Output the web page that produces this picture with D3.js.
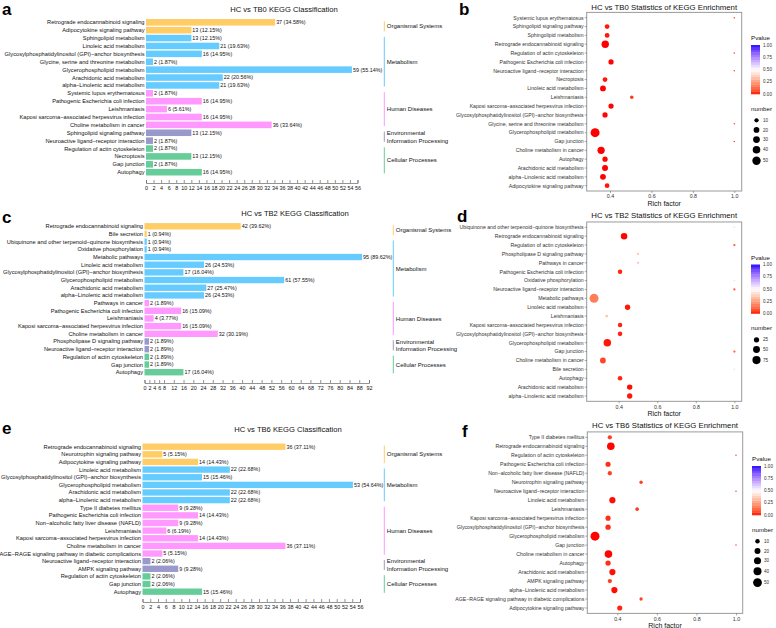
<!DOCTYPE html>
<html><head><meta charset="utf-8">
<script src="https://cdn.jsdelivr.net/npm/d3@7"></script>
<style>
body{margin:0;background:#fff;}
text{font-family:"Liberation Sans",Arial,Helvetica,sans-serif;}
</style></head>
<body>
<script>
// ---------------- DATA ----------------
const catNames = ["Organismal Systems","Metabolism","Human Diseases","Environmental|Information Processing","Cellular Processes"];
const catColors = ["#FFCC66","#66CCFF","#FF99FF","#9999CC","#66CC99"];

// Panel a : HC vs TB0 KEGG Classification
const aPathways = ["Retrograde endocannabinoid signaling","Adipocytokine signaling pathway","Sphingolipid metabolism","Linoleic acid metabolism","Glycosylphosphatidylinositol (GPI)\u2212anchor biosynthesis","Glycine, serine and threonine metabolism","Glycerophospholipid metabolism","Arachidonic acid metabolism","alpha\u2212Linolenic acid metabolism","Systemic lupus erythematosus","Pathogenic Escherichia coli infection","Leishmaniasis","Kaposi sarcoma\u2212associated herpesvirus infection","Choline metabolism in cancer","Sphingolipid signaling pathway","Neuroactive ligand\u2212receptor interaction","Regulation of actin cytoskeleton","Necroptosis","Gap junction","Autophagy"];
const aCounts = [37,13,13,21,16,2,59,22,21,2,16,6,16,36,13,2,2,13,2,16];
const aCats = [0,0,1,1,1,1,1,1,1,2,2,2,2,2,3,3,4,4,4,4];
const aTotal = 107;
const aTicks = [0,2,4,6,8,10,12,14,16,18,20,22,24,26,28,30,32,34,36,38,40,42,44,46,48,50,52,54,56];

// Panel b : HC vs TB0 enrichment
const bPathways = ["Systemic lupus erythematosus","Sphingolipid signaling pathway","Sphingolipid metabolism","Retrograde endocannabinoid signaling","Regulation of actin cytoskeleton","Pathogenic Escherichia coli infection","Neuroactive ligand\u2212receptor interaction","Necroptosis","Linoleic acid metabolism","Leishmaniasis","Kaposi sarcoma\u2212associated herpesvirus infection","Glycosylphosphatidylinositol (GPI)\u2212anchor biosynthesis","Glycine, serine and threonine metabolism","Glycerophospholipid metabolism","Gap junction","Choline metabolism in cancer","Autophagy","Arachidonic acid metabolism","alpha\u2212Linolenic acid metabolism","Adipocytokine signaling pathway"];
const bRich = [1.0,0.386,0.386,0.377,1.0,0.405,1.0,0.376,0.366,0.505,0.405,0.376,1.0,0.328,1.0,0.357,0.376,0.376,0.366,0.386];
const bCounts = [2,13,13,37,2,16,2,13,21,6,16,16,2,59,2,36,16,22,21,13];
const bPvals = [0.05,0.01,0.01,0.0001,0.05,0.001,0.05,0.01,0.001,0.04,0.001,0.002,0.05,0.0001,0.05,0.0001,0.002,0.0005,0.001,0.01];
const bSizeBreaks = [10,20,30,40,50];

// Panel c : HC vs TB2 KEGG Classification
const cPathways = ["Retrograde endocannabinoid signaling","Bile secretion","Ubiquinone and other terpenoid\u2212quinone biosynthesis","Oxidative phosphorylation","Metabolic pathways","Linoleic acid metabolism","Glycosylphosphatidylinositol (GPI)\u2212anchor biosynthesis","Glycerophospholipid metabolism","Arachidonic acid metabolism","alpha\u2212Linolenic acid metabolism","Pathways in cancer","Pathogenic Escherichia coli infection","Leishmaniasis","Kaposi sarcoma\u2212associated herpesvirus infection","Choline metabolism in cancer","Phospholipase D signaling pathway","Neuroactive ligand\u2212receptor interaction","Regulation of actin cytoskeleton","Gap junction","Autophagy"];
const cCounts = [42,1,1,1,95,26,17,61,27,26,2,16,4,16,32,2,2,2,2,17];
const cCats = [0,0,1,1,1,1,1,1,1,1,2,2,2,2,2,3,3,4,4,4];
const cTotal = 106;
const cTicks = [0,2,4,6,8,12,16,20,24,28,32,36,40,44,48,52,56,60,64,68,72,76,80,84,88,92];

// Panel d : HC vs TB2 enrichment
const dPathways = ["Ubiquinone and other terpenoid\u2212quinone biosynthesis","Retrograde endocannabinoid signaling","Regulation of actin cytoskeleton","Phospholipase D signaling pathway","Pathways in cancer","Pathogenic Escherichia coli infection","Oxidative phosphorylation","Neuroactive ligand\u2212receptor interaction","Metabolic pathways","Linoleic acid metabolism","Leishmaniasis","Kaposi sarcoma\u2212associated herpesvirus infection","Glycosylphosphatidylinositol (GPI)\u2212anchor biosynthesis","Glycerophospholipid metabolism","Gap junction","Choline metabolism in cancer","Bile secretion","Autophagy","Arachidonic acid metabolism","alpha\u2212Linolenic acid metabolism"];
const dRich = [1.0,0.428,1.0,0.5,0.5,0.407,1.0,1.0,0.272,0.446,0.338,0.407,0.407,0.341,1.0,0.318,1.0,0.407,0.457,0.457];
const dCounts = [1,42,2,2,2,16,1,2,95,26,4,16,17,61,2,32,1,17,27,26];
const dPvals = [0.4,0.001,0.1,0.35,0.35,0.02,0.4,0.1,0.17,0.01,0.35,0.02,0.02,0.01,0.1,0.06,0.4,0.02,0.005,0.01];
const dSizeBreaks = [25,50,75];

// Panel e : HC vs TB6 KEGG Classification
const ePathways = ["Retrograde endocannabinoid signaling","Neurotrophin signaling pathway","Adipocytokine signaling pathway","Linoleic acid metabolism","Glycosylphosphatidylinositol (GPI)\u2212anchor biosynthesis","Glycerophospholipid metabolism","Arachidonic acid metabolism","alpha\u2212Linolenic acid metabolism","Type II diabetes mellitus","Pathogenic Escherichia coli infection","Non\u2212alcoholic fatty liver disease (NAFLD)","Leishmaniasis","Kaposi sarcoma\u2212associated herpesvirus infection","Choline metabolism in cancer","AGE\u2212RAGE signaling pathway in diabetic complications","Neuroactive ligand\u2212receptor interaction","AMPK signaling pathway","Regulation of actin cytoskeleton","Gap junction","Autophagy"];
const eCounts = [36,5,14,22,15,53,22,22,9,14,9,6,14,36,5,2,9,2,2,15];
const eCats = [0,0,0,1,1,1,1,1,2,2,2,2,2,2,2,3,3,4,4,4];
const eTotal = 97;
const eTicks = [0,2,4,6,8,10,12,14,16,18,20,22,24,26,28,30,32,34,36,38,40,42,44,46,48,50,52,54,56];

// Panel f : HC vs TB6 enrichment
const fPathways = ["Type II diabetes mellitus","Retrograde endocannabinoid signaling","Regulation of actin cytoskeleton","Pathogenic Escherichia coli infection","Non\u2212alcoholic fatty liver disease (NAFLD)","Neurotrophin signaling pathway","Neuroactive ligand\u2212receptor interaction","Linoleic acid metabolism","Leishmaniasis","Kaposi sarcoma\u2212associated herpesvirus infection","Glycosylphosphatidylinositol (GPI)\u2212anchor biosynthesis","Glycerophospholipid metabolism","Gap junction","Choline metabolism in cancer","Autophagy","Arachidonic acid metabolism","AMPK signaling pathway","alpha\u2212Linolenic acid metabolism","AGE\u2212RAGE signaling pathway in diabetic complications","Adipocytokine signaling pathway"];
const fRich = [0.362,0.367,1.0,0.353,0.362,0.52,1.0,0.375,0.5,0.353,0.353,0.287,1.0,0.355,0.353,0.375,0.362,0.385,0.52,0.412];
const fCounts = [9,36,2,14,9,5,2,22,6,14,15,53,2,36,15,22,9,22,5,14];
const fPvals = [0.05,0.001,0.06,0.03,0.05,0.05,0.06,0.005,0.04,0.03,0.03,0.001,0.06,0.002,0.03,0.005,0.05,0.004,0.05,0.02];
const fSizeBreaks = [10,20,30,40,50];

const pvalTicks = [0,0.25,0.5,0.75,1];

// ---------------- DRAW ----------------
const W = 776, H = 628;
const svg = d3.select("body").append("svg").attr("width", W).attr("height", H);
svg.append("rect").attr("width", W).attr("height", H).attr("fill", "#fff");

const pColor = d3.scaleLinear().domain([0, 0.5, 1]).range(["#FF0000", "#FFFFFF", "#0000FF"]).interpolate(d3.interpolateLab);

function panelLetter(ch, x, y) {
  svg.append("text").attr("x", x).attr("y", y).attr("font-size", 17).attr("font-weight", "bold")
    .attr("fill", "#000").text(ch);
}

function barPanel(o) {
  const g = svg.append("g");
  const n = o.names.length;
  const y = d3.scaleBand().domain(d3.range(n))
    .range([o.yFirst - o.step / 2, o.yFirst + (n - 0.5) * o.step]).paddingInner(0.17).paddingOuter(0.085);
  const xb = d3.scaleLinear().domain([0, o.barMax]).range([o.x0, o.barEnd]);
  const xa = d3.scaleLinear().domain([0, o.axisMax]).range([o.x0, o.axisEnd]);
  const rows = d3.range(n);
  g.selectAll("rect.bar").data(rows).join("rect")
    .attr("x", o.x0).attr("y", i => y(i)).attr("height", y.bandwidth())
    .attr("width", i => xb(o.counts[i]) - o.x0)
    .attr("fill", i => catColors[o.cats[i]]);
  g.selectAll("text.lab").data(rows).join("text")
    .attr("x", o.x0 - 1.5).attr("y", i => y(i) + y.bandwidth() / 2).attr("dy", "0.35em")
    .attr("text-anchor", "end").attr("font-size", 5.7).attr("fill", "#111").text(i => o.names[i]);
  g.selectAll("text.val").data(rows).join("text")
    .attr("x", i => xb(o.counts[i]) + 1).attr("y", i => y(i) + y.bandwidth() / 2).attr("dy", "0.35em")
    .attr("font-size", 5.4).attr("fill", "#111")
    .text(i => `${o.counts[i]} (${(o.counts[i] / o.total * 100).toFixed(2)}%)`);
  // axis
  const ax = g.append("g").attr("transform", `translate(0,${o.axisY})`)
    .call(d3.axisBottom(xa).tickValues(o.ticks).tickSize(-3).tickPadding(3).tickFormat(d3.format("d")));
  ax.select(".domain").attr("stroke", "#666").attr("stroke-width", 0.7);
  ax.selectAll(".tick line").attr("stroke", "#666").attr("stroke-width", 0.7);
  ax.selectAll(".tick text").attr("font-size", 5.4).attr("fill", "#111")
    .attr("font-family", '"Liberation Sans",Arial,sans-serif');
  // title
  g.append("text").attr("x", o.titleX).attr("y", o.titleY).attr("text-anchor", "middle")
    .attr("font-size", 7.6).attr("fill", "#111").text(o.title);
  // category brackets
  for (let c = 0; c < catNames.length; c++) {
    const idx = rows.filter(i => o.cats[i] === c);
    const y1 = y(d3.min(idx)) + y.bandwidth() / 2 - 1.2, y2 = y(d3.max(idx)) + y.bandwidth() / 2 + 1.2;
    g.append("line").attr("x1", o.catX).attr("x2", o.catX).attr("y1", y1).attr("y2", y2)
      .attr("stroke", catColors[c]).attr("stroke-width", 1);
    const parts = catNames[c].split("|");
    const ym = (y1 + y2) / 2;
    parts.forEach((p, k) => {
      g.append("text").attr("x", o.catX + 2.5).attr("y", ym + (k - (parts.length - 1) / 2) * 7.4)
        .attr("dy", "0.35em").attr("font-size", 6).attr("fill", "#111").text(p);
    });
  }
}

function dotPanel(o) {
  const g = svg.append("g");
  const n = o.names.length;
  const y = d3.scalePoint().domain(d3.range(n)).range([o.yFirst, o.yLast]);
  const step = (o.yLast - o.yFirst) / (n - 1);
  const top = o.yFirst - 0.6 * step, bot = o.yLast + 0.6 * step;
  const x = d3.scaleLinear().domain(o.xDomain).range([o.left, o.right]);
  const cmin = d3.min(o.counts), cmax = d3.max(o.counts);
  const t = d3.scaleLinear().domain([cmin, cmax]).range([0, 1]).clamp(true);
  const rScale = d3.scaleLinear().domain([0, 1]).range([0.75, 4.5]);
  const r = v => rScale(Math.sqrt(t(v)));
  // title
  g.append("text").attr("x", (o.left + o.right) / 2).attr("y", o.titleY).attr("text-anchor", "middle")
    .attr("font-size", 7.8).attr("fill", "#111").text(o.title);
  // frame
  g.append("rect").attr("x", o.left).attr("y", top).attr("width", o.right - o.left).attr("height", bot - top)
    .attr("fill", "#fff").attr("stroke", "#9a9a9a").attr("stroke-width", 1);
  const rows = d3.range(n);
  // y ticks + labels
  g.selectAll("line.yt").data(rows).join("line")
    .attr("x1", o.left - 2).attr("x2", o.left).attr("y1", i => y(i)).attr("y2", i => y(i))
    .attr("stroke", "#555").attr("stroke-width", 0.5);
  g.selectAll("text.yl").data(rows).join("text")
    .attr("x", o.left - 3).attr("y", i => y(i)).attr("dy", "0.35em").attr("text-anchor", "end")
    .attr("font-size", 5.2).attr("fill", "#333").text(i => o.names[i]);
  // x axis
  const ax = g.append("g").attr("transform", `translate(0,${bot})`)
    .call(d3.axisBottom(x).tickValues([0.4, 0.6, 0.8, 1.0]).tickSize(2).tickPadding(1.5).tickFormat(d3.format(".1f")));
  ax.select(".domain").remove();
  ax.selectAll(".tick line").attr("stroke", "#555").attr("stroke-width", 0.5);
  ax.selectAll(".tick text").attr("font-size", 5.3).attr("fill", "#333")
    .attr("font-family", '"Liberation Sans",Arial,sans-serif');
  g.append("text").attr("x", (o.left + o.right) / 2).attr("y", bot + 14.5).attr("text-anchor", "middle")
    .attr("font-size", 7).attr("fill", "#111").text("Rich factor");
  // dots
  g.selectAll("circle.dot").data(rows).join("circle")
    .attr("cx", i => x(o.rich[i])).attr("cy", i => y(i)).attr("r", i => r(o.counts[i]))
    .attr("fill", i => pColor(o.pvals[i]));
  // legend: Pvalue
  const lx = o.legX;
  g.append("text").attr("x", lx).attr("y", o.legY).attr("font-size", 6.2).attr("fill", "#111").text("Pvalue");
  const barTop = o.legY + 5, barH = 49, barW = 9;
  const pv = d3.scaleLinear().domain([0, 1]).range([barTop + barH, barTop]);
  const nb = 20;
  g.selectAll("rect.cb").data(d3.range(nb)).join("rect")
    .attr("x", lx).attr("y", k => pv((k + 1) / nb)).attr("width", barW).attr("height", barH / nb + 0.3)
    .attr("fill", k => pColor((k + 0.5) / nb));
  g.selectAll("text.cbl").data(pvalTicks).join("text")
    .attr("x", lx + barW + 3).attr("y", d => pv(d)).attr("dy", "0.35em")
    .attr("font-size", 4.6).attr("fill", "#333").text(d => d.toFixed(2));
  // legend: number
  const ny = barTop + barH + 16.5;
  g.append("text").attr("x", lx).attr("y", ny).attr("font-size", 6.2).attr("fill", "#111").text("number");
  let cy = ny + 5;
  o.sizeBreaks.forEach((v, k) => {
    const rr = r(v);
    const h = Math.max(2 * rr + 3, 9.6);
    const cc = cy + h / 2;
    g.append("circle").attr("cx", lx + barW / 2 + 1).attr("cy", cc).attr("r", rr).attr("fill", "#000");
    g.append("text").attr("x", lx + barW + 3).attr("y", cc).attr("dy", "0.35em")
      .attr("font-size", 4.6).attr("fill", "#333").text(v);
    cy += h;
  });
}

// ---- panel a
barPanel({names: aPathways, counts: aCounts, cats: aCats, total: aTotal, ticks: aTicks,
  x0: 146, barMax: 60, barEnd: 146 + 60 * 3.49, axisMax: 56, axisEnd: 357.5,
  yFirst: 22.3, step: 7.89, axisY: 183, title: "HC vs TB0 KEGG Classification",
  titleX: 284, titleY: 12, catX: 384.3});
panelLetter("a", 2, 15);

// ---- panel b
dotPanel({names: bPathways, rich: bRich, counts: bCounts, pvals: bPvals, sizeBreaks: bSizeBreaks,
  xDomain: [0.2875, 1.0357], left: 586.7, right: 741.7, yFirst: 17.7, yLast: 185.7,
  title: "HC vs TB0 Statistics of KEGG Enrichment", titleY: 9.5, legX: 751, legY: 40});
panelLetter("b", 459, 14.5);

// ---- panel c
barPanel({names: cPathways, counts: cCounts, cats: cCats, total: cTotal, ticks: cTicks,
  x0: 144.5, barMax: 100, barEnd: 144.5 + 100 * 2.29, axisMax: 92, axisEnd: 369,
  yFirst: 226.3, step: 7.68, axisY: 383, title: "HC vs TB2 KEGG Classification",
  titleX: 295, titleY: 216, catX: 393.3});
panelLetter("c", 2, 223);

// ---- panel d
dotPanel({names: dPathways, rich: dRich, counts: dCounts, pvals: dPvals, sizeBreaks: dSizeBreaks,
  xDomain: [0.234, 1.038], left: 586.7, right: 741.7, yFirst: 227.3, yLast: 396,
  title: "HC vs TB2 Statistics of KEGG Enrichment", titleY: 217.5, legX: 751, legY: 259.5});
panelLetter("d", 457, 222);

// ---- panel e
barPanel({names: ePathways, counts: eCounts, cats: eCats, total: eTotal, ticks: eTicks,
  x0: 142.5, barMax: 56, barEnd: 142.5 + 56 * 3.97, axisMax: 56, axisEnd: 360,
  yFirst: 446.7, step: 7.63, axisY: 602, title: "HC vs TB6 KEGG Classification",
  titleX: 288, titleY: 432, catX: 384.3});
panelLetter("e", 2, 434);

// ---- panel f
dotPanel({names: fPathways, rich: fRich, counts: fCounts, pvals: fPvals, sizeBreaks: fSizeBreaks,
  xDomain: [0.248, 1.034], left: 587.3, right: 742.7, yFirst: 437.3, yLast: 608,
  title: "HC vs TB6 Statistics of KEGG Enrichment", titleY: 427.5, legX: 752, legY: 461});
panelLetter("f", 462, 437);
</script>
</body></html>
